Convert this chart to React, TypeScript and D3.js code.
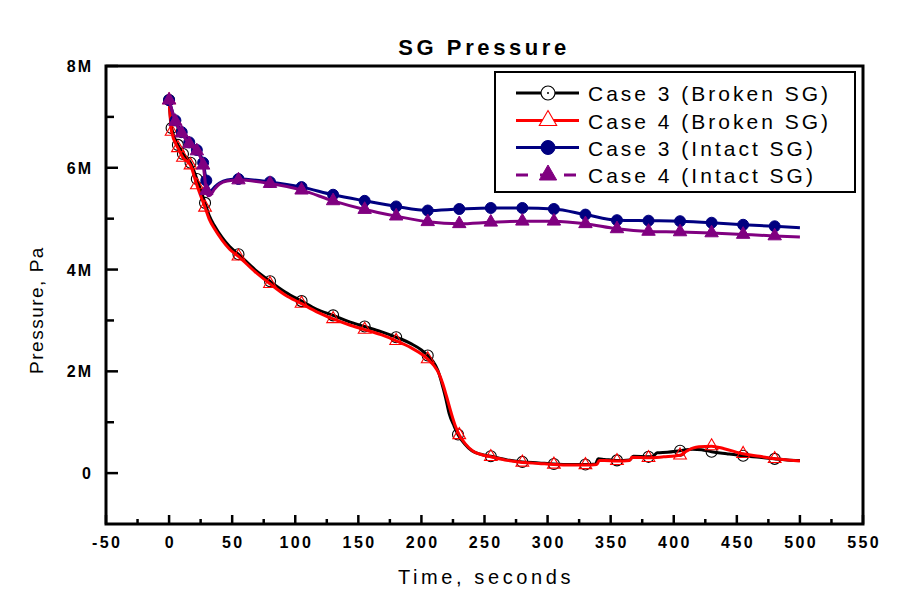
import React from 'react';
import * as d3 from 'd3';

// ---------- data (pressure in MPa, shown as "M" Pa) ----------
const xTicks = [-50, 0, 50, 100, 150, 200, 250, 300, 350, 400, 450, 500, 550];
const xMinorTicks = [-25, 25, 75, 125, 175, 225, 275, 325, 375, 425, 475, 525];
const yTicks = [0, 2, 4, 6, 8];
const yTickLabels = ['0', '2M', '4M', '6M', '8M'];
const yMinorTicks = [1, 3, 5, 7];

const case3BrokenT = [0, 2, 7, 11, 17, 22, 28.5, 32, 36, 42, 48, 55, 68, 80, 92, 105, 117, 130, 142, 155, 168, 180, 192, 200, 205, 209, 213, 216, 219, 222, 226, 229, 234, 240, 247, 255, 268, 280, 293, 305, 318, 330, 338, 340, 345, 355, 365, 368, 380, 384, 387, 395, 405, 415, 422, 430, 442, 455, 468, 480, 490, 500];
const case3BrokenP = [7.33, 6.78, 6.45, 6.27, 6.1, 5.78, 5.31, 5.05, 4.86, 4.63, 4.45, 4.3, 4.0, 3.77, 3.56, 3.38, 3.22, 3.1, 2.98, 2.88, 2.78, 2.67, 2.54, 2.42, 2.31, 2.2, 2.02, 1.78, 1.5, 1.17, 0.92, 0.76, 0.58, 0.44, 0.37, 0.33, 0.26, 0.22, 0.2, 0.18, 0.17, 0.17, 0.18, 0.28, 0.27, 0.25, 0.26, 0.33, 0.32, 0.34, 0.4, 0.41, 0.44, 0.47, 0.46, 0.42, 0.38, 0.34, 0.31, 0.28, 0.26, 0.25];
const case3BrokenMarks = [0, 2, 7, 11, 17, 22, 28.5, 55, 80, 105, 130, 155, 180, 205, 229, 255, 280, 305, 330, 355, 380, 405, 430, 455, 480];

const case4BrokenT = [0, 2, 7, 11, 17, 22, 28.5, 32, 36, 42, 48, 55, 68, 80, 92, 105, 117, 130, 142, 155, 168, 180, 192, 200, 205, 210, 214, 217, 220, 224, 227, 230, 235, 241, 248, 255, 268, 280, 293, 305, 318, 330, 339, 341, 345, 355, 365, 367, 380, 392, 405, 410, 415, 420, 430, 440, 455, 468, 480, 490, 500];
const case4BrokenP = [7.33, 6.71, 6.39, 6.2, 6.05, 5.66, 5.22, 4.98, 4.8, 4.58, 4.4, 4.26, 3.96, 3.72, 3.5, 3.33, 3.17, 3.03, 2.92, 2.82, 2.72, 2.6, 2.46, 2.34, 2.24, 2.11, 1.95, 1.75, 1.5, 1.15, 0.92, 0.75, 0.57, 0.43, 0.36, 0.32, 0.25, 0.21, 0.19, 0.17, 0.16, 0.16, 0.17, 0.25, 0.25, 0.24, 0.25, 0.31, 0.3, 0.32, 0.35, 0.43, 0.49, 0.52, 0.53, 0.48, 0.38, 0.33, 0.28, 0.26, 0.24];
const case4BrokenMarks = [0, 2, 7, 11, 17, 22, 28.5, 55, 80, 105, 130, 155, 180, 205, 230, 255, 280, 305, 330, 355, 380, 405, 430, 455, 480];

const intactT = [0, 5, 10, 16, 22, 27, 29.5, 31, 33, 36, 40, 46, 55, 80, 105, 130, 155, 180, 205, 230, 255, 280, 305, 330, 355, 380, 405, 430, 455, 480, 500];
const case3IntactP = [7.33, 6.93, 6.7, 6.5, 6.35, 6.1, 5.75, 5.6, 5.55, 5.62, 5.7, 5.76, 5.78, 5.72, 5.62, 5.47, 5.35, 5.24, 5.16, 5.19, 5.21, 5.21, 5.19, 5.08, 4.97, 4.96, 4.95, 4.92, 4.88, 4.85, 4.82];
const case4IntactP = [7.33, 6.91, 6.68, 6.47, 6.33, 6.05, 5.55, 5.45, 5.47, 5.58, 5.68, 5.74, 5.76, 5.69, 5.56, 5.35, 5.18, 5.05, 4.94, 4.9, 4.93, 4.95, 4.95, 4.9, 4.8, 4.75, 4.74, 4.72, 4.69, 4.66, 4.64];
const intactMarks = [0, 5, 10, 16, 22, 27, 29.5, 55, 80, 105, 130, 155, 180, 205, 230, 255, 280, 305, 330, 355, 380, 405, 430, 455, 480];

const seriesNames = ['Case 3 (Broken SG)', 'Case 4 (Broken SG)', 'Case 3 (Intact SG)', 'Case 4 (Intact SG)'];
const seriesColors = ['#000000', '#ff0000', '#000080', '#800080'];

type Kind = 'openCircle' | 'openTriangle' | 'filledCircle' | 'filledTriangle';
const seriesKinds: Kind[] = ['openCircle', 'openTriangle', 'filledCircle', 'filledTriangle'];

const FONT = 'Arial, "Liberation Sans", sans-serif';

const W = 898;
const H = 596;
const M = { left: 106, right: 863, top: 66, bottom: 524 };

const x = d3.scaleLinear().domain([-50, 550]).range([M.left, M.right]);
const y = d3.scaleLinear().domain([-1, 8]).range([M.bottom, M.top]);

const line = d3
  .line<[number, number]>()
  .x((d) => x(d[0]))
  .y((d) => y(d[1]))
  .curve(d3.curveMonotoneX);

function Marker({ kind, cx, cy, color, big, legend }: { kind: Kind; cx: number; cy: number; color: string; big?: boolean; legend?: boolean }) {
  if (kind === 'openCircle' || kind === 'filledCircle') {
    const r = big ? 7 : 5.5;
    if (kind === 'openCircle') {
      return (
        <g>
          <circle cx={cx} cy={cy} r={r} fill={legend ? '#fff' : 'none'} stroke={color} strokeWidth={1.1} />
          <circle cx={cx} cy={cy} r={1} fill={color} />
        </g>
      );
    }
    return <circle cx={cx} cy={cy} r={r} fill={color} stroke={color} strokeWidth={1} />;
  }
  const size = big ? 130 : kind === 'filledTriangle' ? 78 : 70;
  const path = d3.symbol().type(d3.symbolTriangle).size(size)() as string;
  if (kind === 'openTriangle') {
    return <path d={path} transform={`translate(${cx},${cy})`} fill={legend ? '#fff' : 'none'} stroke={color} strokeWidth={1.1} />;
  }
  return <path d={path} transform={`translate(${cx},${cy})`} fill={color} stroke={color} strokeWidth={1} />;
}

function Series({ t, p, marks, color, kind }: { t: number[]; p: number[]; marks: number[]; color: string; kind: Kind }) {
  const pts: [number, number][] = t.map((tt, i) => [tt, p[i]]);
  const markPts = marks.map((m) => pts[t.indexOf(m)]).filter(Boolean);
  return (
    <g>
      <path d={line(pts) as string} fill="none" stroke={color} strokeWidth={3} strokeLinejoin="round" />
      {markPts.map((d, i) => (
        <Marker key={i} kind={kind} cx={x(d[0])} cy={y(d[1])} color={color} />
      ))}
    </g>
  );
}

export default function App() {
  const legendRowY = [93, 120.5, 147.5, 175];
  return (
    <svg width={W} height={H} style={{ position: 'absolute', left: 0, top: 0, background: '#fff' }} fontFamily={FONT}>
      <rect x={0} y={0} width={W} height={H} fill="#fff" />
      {/* title */}
      <text x={484} y={55} textAnchor="middle" fontSize={22} fontWeight="bold" letterSpacing={3.6}>
        SG Pressure
      </text>

      {/* series */}
      <Series t={case3BrokenT} p={case3BrokenP} marks={case3BrokenMarks} color={seriesColors[0]} kind={seriesKinds[0]} />
      <Series t={case4BrokenT} p={case4BrokenP} marks={case4BrokenMarks} color={seriesColors[1]} kind={seriesKinds[1]} />
      <Series t={intactT} p={case3IntactP} marks={intactMarks} color={seriesColors[2]} kind={seriesKinds[2]} />
      <Series t={intactT} p={case4IntactP} marks={intactMarks} color={seriesColors[3]} kind={seriesKinds[3]} />

      {/* frame */}
      <rect x={M.left} y={M.top} width={M.right - M.left} height={M.bottom - M.top} fill="none" stroke="#000" strokeWidth={3} />

      {/* x ticks */}
      {xTicks.map((v) => (
        <g key={'xt' + v}>
          <line x1={x(v)} x2={x(v)} y1={M.bottom} y2={M.bottom - 9} stroke="#000" strokeWidth={2.5} />
          <text x={x(v) + 1.2} y={548} textAnchor="middle" fontSize={16} fontWeight="bold" letterSpacing={2.4}>
            {v}
          </text>
        </g>
      ))}
      {xMinorTicks.map((v) => (
        <line key={'xm' + v} x1={x(v)} x2={x(v)} y1={M.bottom} y2={M.bottom - 5} stroke="#000" strokeWidth={2.5} />
      ))}

      {/* y ticks */}
      {yTicks.map((v, i) => (
        <g key={'yt' + v}>
          <line x1={M.left} x2={M.left + 12} y1={y(v)} y2={y(v)} stroke="#000" strokeWidth={2.5} />
          <text x={93} y={y(v) + 6} textAnchor="end" fontSize={16} fontWeight="bold" letterSpacing={2}>
            {yTickLabels[i]}
          </text>
        </g>
      ))}
      {yMinorTicks.map((v) => (
        <line key={'ym' + v} x1={M.left} x2={M.left + 8} y1={y(v)} y2={y(v)} stroke="#000" strokeWidth={2.5} />
      ))}

      {/* axis titles */}
      <text x={486} y={584} textAnchor="middle" fontSize={20} letterSpacing={3.6}>
        Time, seconds
      </text>
      <text transform={`translate(43,310) rotate(-90)`} textAnchor="middle" fontSize={19} letterSpacing={1.5}>
        Pressure, Pa
      </text>

      {/* legend */}
      <rect x={495} y={72} width={360} height={120} fill="#fff" stroke="#000" strokeWidth={2} />
      {seriesNames.map((name, i) => {
        const cy = legendRowY[i];
        const dashed = i === 3;
        return (
          <g key={name}>
            <line
              x1={516}
              x2={579}
              y1={cy}
              y2={cy}
              stroke={seriesColors[i]}
              strokeWidth={3}
              strokeDasharray={dashed ? '12,12' : undefined}
            />
            <Marker kind={seriesKinds[i]} cx={548} cy={cy} color={seriesColors[i]} big legend />
            <text x={588} y={cy + 8} fontSize={21} letterSpacing={3}>
              {name}
            </text>
          </g>
        );
      })}
    </svg>
  );
}
